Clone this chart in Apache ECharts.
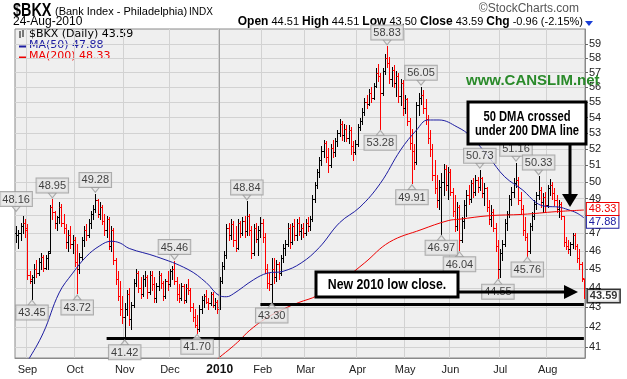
<!DOCTYPE html>
<html><head><meta charset="utf-8">
<script src="https://cdn.jsdelivr.net/npm/echarts@6/dist/echarts.min.js"></script>
<style>html,body{margin:0;padding:0;background:#fff}#c{width:627px;height:379px}</style>
</head><body><div id="c"></div><script>
// ---- daily bars [open, high, low, close] per month ----
const aug09=[[47.0,47.4,46.5,46.9],[46.9,47.2,46.2,47.0],[47.0,47.6,46.6,47.4],[47.4,48.0,47.0,47.6],[47.6,47.8,46.8,47.3]];
const sep09=[[47.2,47.5,44.5,44.7],[44.7,44.9,44.3,44.5],[44.4,44.7,43.45,44.6],[44.6,45.3,44.3,45.0],[45.0,45.5,44.6,44.8],[44.8,45.6,44.7,45.4],[45.4,45.9,45.0,45.7],[45.7,45.8,44.9,45.1],[45.1,45.8,45.0,45.6],[45.6,46.0,45.0,45.9],[46.0,48.6,45.9,48.5],[48.5,48.95,47.8,48.2],[48.2,48.3,47.3,47.6],[47.6,48.0,47.2,47.9],[47.9,48.8,47.6,48.5],[48.5,48.7,47.4,47.6],[47.6,48.1,47.0,47.3],[47.3,47.5,46.2,46.5],[46.5,47.2,46.0,46.9],[46.9,47.4,46.2,46.4],[46.4,46.9,45.9,46.6]];
const oct09=[[46.6,46.8,45.2,45.4],[45.4,46.4,43.72,45.0],[45.0,45.9,44.8,45.7],[45.7,46.8,45.5,46.6],[46.6,47.4,46.3,47.2],[47.2,47.5,46.6,46.9],[46.9,47.8,46.8,47.6],[47.6,48.3,47.3,48.1],[48.1,48.6,47.8,48.4],[48.4,49.28,48.2,48.9],[48.9,49.0,47.9,48.1],[48.1,48.8,47.8,48.5],[48.5,48.6,47.5,47.7],[47.7,48.1,46.9,47.2],[47.2,48.0,46.8,47.8],[47.8,47.9,46.1,46.3],[46.3,47.4,46.0,47.2],[47.2,47.3,45.3,45.5],[45.5,45.6,44.2,44.5],[44.5,44.9,43.4,43.6],[43.6,44.4,42.6,42.9],[42.9,43.6,42.2,42.5]];
const nov09=[[42.5,43.2,41.42,42.9],[42.9,43.9,42.6,43.7],[43.7,44.0,42.1,42.4],[42.4,43.3,41.9,43.1],[43.1,44.5,43.0,44.3],[44.3,45.0,44.1,44.8],[44.8,44.9,43.8,44.0],[44.0,44.6,43.5,43.7],[43.7,44.7,43.6,44.5],[44.5,44.9,44.1,44.6],[44.6,44.7,43.5,43.8],[43.8,44.9,43.7,44.7],[44.7,44.9,43.9,44.2],[44.2,44.6,43.3,43.5],[43.5,44.3,43.3,44.1],[44.1,44.9,43.9,44.7],[44.7,44.8,44.0,44.3],[44.3,44.4,43.4,43.6],[43.6,44.5,43.5,44.4],[44.4,44.9,43.9,44.2]];
const dec09=[[44.2,45.0,44.1,44.9],[44.9,45.2,44.5,45.0],[45.0,45.46,44.2,44.4],[44.4,44.6,43.4,43.7],[43.7,44.2,43.3,43.5],[43.5,44.3,43.4,44.1],[44.1,44.2,43.2,43.4],[43.4,44.2,43.3,44.0],[44.0,44.5,43.7,43.9],[43.9,44.0,42.8,43.0],[43.0,43.2,42.3,42.5],[42.5,42.9,42.0,42.1],[42.1,42.6,41.70,41.9],[41.9,43.1,41.8,42.9],[42.9,43.6,42.7,43.4],[43.4,43.7,43.0,43.6],[43.6,43.9,43.2,43.3],[43.3,43.5,42.9,43.2],[43.2,43.8,43.1,43.7],[43.7,43.8,43.0,43.1],[43.1,43.5,42.9,43.3],[43.3,43.4,42.7,42.9]];
const jan10=[[43.0,44.6,42.9,44.4],[44.4,45.4,44.3,45.2],[45.2,46.0,45.0,45.8],[45.8,47.5,45.6,47.3],[47.3,47.6,46.6,46.9],[46.9,47.8,46.7,47.5],[47.5,47.7,46.3,46.6],[46.6,47.4,46.0,46.2],[46.2,47.8,46.1,47.6],[47.6,47.7,46.8,47.0],[47.0,47.9,46.9,47.7],[47.7,48.0,46.8,47.1],[47.1,48.84,46.9,48.0],[48.0,48.1,46.9,47.2],[47.2,47.4,45.6,45.9],[45.9,47.5,45.8,47.3],[47.3,47.6,46.5,46.7],[46.7,47.4,45.8,47.2],[47.2,47.9,46.8,47.6]];
const feb10=[[47.6,47.8,46.5,46.8],[46.8,47.0,44.8,45.0],[45.0,45.3,44.0,44.3],[44.3,44.8,43.9,44.2],[44.2,45.6,43.30,45.0],[45.0,45.6,44.3,44.6],[44.6,45.5,44.4,45.3],[45.3,45.4,44.5,44.8],[44.8,45.8,44.7,45.6],[45.6,46.4,45.4,46.2],[46.2,46.6,45.8,46.4],[46.4,47.6,46.3,47.3],[47.3,47.5,46.2,46.5],[46.5,47.6,46.4,47.4],[47.4,47.8,46.6,46.9],[46.9,47.8,46.6,47.6],[47.6,47.9,46.9,47.1],[47.1,47.5,46.7,47.3],[47.3,47.6,46.8,47.0]];
const mar10=[[47.0,47.8,46.9,47.6],[47.6,47.9,47.1,47.4],[47.4,48.0,47.2,47.8],[47.8,49.2,47.7,49.0],[49.0,50.0,48.8,49.8],[49.8,50.8,49.6,50.6],[50.6,51.5,50.3,51.3],[51.3,52.2,51.0,51.9],[51.9,52.6,51.5,52.4],[52.4,52.5,51.2,51.5],[51.5,52.1,50.6,51.0],[51.0,52.3,50.9,52.1],[52.1,52.6,51.5,51.8],[51.8,52.7,51.6,52.5],[52.5,53.2,52.2,53.0],[53.0,53.9,52.8,53.6],[53.6,53.8,52.6,52.9],[52.9,53.6,52.5,53.3],[53.3,53.5,52.5,52.7],[52.7,53.5,52.4,53.2],[53.2,53.4,51.7,52.2],[52.2,52.5,51.3,51.8],[51.8,52.6,51.7,52.3]];
const apr10=[[52.3,53.6,52.2,53.4],[53.4,54.0,53.2,53.8],[53.8,54.6,53.6,54.4],[54.4,55.3,54.2,55.0],[55.0,55.5,54.6,54.9],[54.9,55.9,54.8,55.6],[55.6,56.0,55.0,55.3],[55.3,56.3,55.2,56.1],[56.1,57.3,56.0,57.0],[57.0,57.6,56.4,56.8],[56.8,57.0,53.28,55.6],[55.6,57.3,55.5,57.1],[57.1,58.3,56.9,58.0],[58.0,58.83,57.4,57.7],[57.7,58.1,56.3,56.6],[56.6,57.4,56.1,57.2],[57.2,57.5,56.0,56.3],[56.3,57.1,55.4,56.8],[56.8,57.0,55.0,55.4],[55.4,56.6,54.8,56.3],[56.3,56.5,54.2,54.6]];
const may10=[[54.6,55.5,54.3,55.2],[55.2,55.3,53.5,53.8],[53.8,54.0,52.0,52.4],[52.4,53.3,49.91,51.9],[51.9,52.3,50.8,51.2],[51.2,55.0,51.1,54.8],[54.8,55.6,54.2,55.3],[55.3,56.05,54.9,55.5],[55.5,55.8,54.3,54.6],[54.6,55.2,53.6,53.9],[53.9,54.2,52.4,52.7],[52.7,53.2,51.6,52.0],[52.0,52.3,50.1,50.4],[50.4,51.3,49.3,49.6],[49.6,50.4,48.5,48.9],[48.9,50.1,48.4,49.7],[49.7,50.5,46.97,50.0],[50.0,51.1,49.2,50.8],[50.8,51.0,49.5,49.8],[49.8,50.9,49.0,50.6]];
const jun10=[[50.6,50.8,49.2,49.4],[49.4,49.6,48.0,48.3],[48.3,49.2,47.1,47.4],[47.4,48.8,47.2,48.5],[48.5,48.6,46.04,46.6],[46.6,47.9,46.5,47.7],[47.7,48.9,47.3,48.6],[48.6,49.5,48.0,49.2],[49.2,49.8,48.7,49.0],[49.0,50.1,48.8,49.9],[49.9,50.2,49.1,49.4],[49.4,50.4,49.2,50.1],[50.1,50.3,49.4,49.7],[49.7,50.73,49.5,50.2],[50.2,50.3,49.1,49.3],[49.3,49.9,48.6,49.6],[49.6,49.7,48.3,48.5],[48.5,48.9,47.5,47.8],[47.8,48.6,47.4,48.2],[48.2,48.4,47.1,47.3],[47.3,47.6,46.0,46.3],[46.3,46.6,44.55,45.0]];
const jul10=[[45.0,46.1,44.6,45.9],[45.9,46.6,45.5,46.4],[46.4,47.8,46.3,47.6],[47.6,48.3,47.2,48.1],[48.1,49.2,47.9,49.0],[49.0,49.7,48.6,49.4],[49.4,50.2,49.1,49.9],[49.9,51.16,49.7,50.1],[50.1,50.3,48.7,48.9],[48.9,49.4,48.1,48.4],[48.4,48.6,46.9,47.2],[47.2,47.9,46.6,46.8],[46.8,47.0,45.76,46.0],[46.0,47.6,45.9,47.4],[47.4,48.2,47.2,48.0],[48.0,48.9,47.8,48.7],[48.7,49.4,48.4,49.2],[49.2,50.33,49.0,49.5],[49.5,49.7,48.5,48.8],[48.8,49.3,48.2,49.1],[49.1,49.4,48.3,48.6]];
const aug10=[[48.6,49.8,48.5,49.6],[49.6,50.15,49.2,49.8],[49.8,50.0,49.0,49.3],[49.3,49.6,48.6,48.9],[48.9,49.2,48.2,48.4],[48.4,48.9,47.9,48.7],[48.7,48.8,47.8,48.0],[48.0,48.0,46.3,46.5],[46.5,46.8,46.1,46.3],[46.3,46.6,45.9,46.1],[46.1,46.5,45.8,46.4],[46.4,47.0,46.2,46.9],[46.9,47.0,46.1,46.3],[46.3,46.4,45.4,45.6],[45.6,46.1,45.0,45.3],[45.3,45.4,44.4,44.55],[44.51,44.51,43.50,43.59]];

// trading calendar
const firstDay='2009-08-25', lastDay='2010-08-24';
const holidays=['2009-09-07','2009-11-26','2009-12-25','2010-01-01','2010-01-18','2010-02-15','2010-04-02','2010-05-31','2010-07-05'];
const monthNames=['2010','Feb','Mar','Apr','May','Jun','Jul','Aug','Sep','Oct','Nov','Dec'];

// moving averages: [bar index, value]
const ma50=[[0,39.5],[5,40.3],[12,41.7],[19,43.75],[25,44.8],[31,45.7],[37,46.3],[42,46.55],[46,46.45],[50,46.15],[62,45.7],[76,45.0],[84,44.3],[90,43.6],[93,43.55],[96,43.7],[105,44.45],[111,44.8],[118,44.9],[126,45.35],[134,46.2],[143,47.6],[152,48.5],[161,49.9],[170,51.95],[177,53.2],[182,53.85],[187,53.85],[195,53.4],[201,52.8],[209,51.5],[216,50.3],[224,49.5],[230,48.75],[234,48.55],[240,48.5],[244,48.35],[248,48.15],[251,47.88]];
const ma200=[[86,40.1],[90,40.5],[95,40.95],[99,41.35],[103,41.8],[110,42.4],[118,42.9],[125,43.25],[133,43.6],[145,44.5],[154,45.35],[165,46.5],[179,47.2],[191,47.72],[196,47.8],[209,48.0],[224,48.08],[239,48.24],[251,48.33]];

// labelled highs and lows
const highCallouts=[[0,48.16],[16,48.95],[35,49.28],[70,45.46],[102,48.84],[164,58.83],[179,56.05],[205,50.73],[221,51.16],[231,50.33]];
const lowCallouts=[[7,43.45],[27,43.72],[48,41.42],[80,41.70],[113,43.30],[161,53.28],[175,49.91],[188,46.97],[196,46.04],[213,44.55],[226,45.76]];
const supportLines=[[40,41.42],[108,43.15]];
const yTicks=[41,42,43,44,45,46,47,48,49,50,51,52,53,54,55,56,57,58,59];
const lastClose=43.59;

// ---------------------------------------------------------
function pad(n){return (n<10?'0':'')+n;}
const dates=[];
(function(){
  const s=new Date(firstDay+'T00:00:00Z'), e=new Date(lastDay+'T00:00:00Z');
  for(let d=new Date(s); d<=e; d.setUTCDate(d.getUTCDate()+1)){
    const w=d.getUTCDay(); if(w===0||w===6) continue;
    const k=d.getUTCFullYear()+'-'+pad(d.getUTCMonth()+1)+'-'+pad(d.getUTCDate());
    if(holidays.indexOf(k)>=0) continue;
    dates.push(k);
  }
})();
const bars=[].concat(aug09,sep09,oct09,nov09,dec09,jan10,feb10,mar10,apr10,may10,jun10,jul10,aug10);
const ohlcData=bars.map((b,i)=>[i,b[0],b[1],b[2],b[3], (i>0 && b[3]<bars[i-1][3])?1:0]);
const monthStart={};
for(let i=1;i<dates.length;i++){ if(dates[i].slice(5,7)!==dates[i-1].slice(5,7)) monthStart[i]=monthNames[parseInt(dates[i].slice(5,7),10)-1]; }
const janIdx=+Object.keys(monthStart).find(k=>monthStart[k]==='2010');

const FONT='Liberation Sans, Arial, sans-serif';
const chart=echarts.init(document.getElementById('c'),null,{renderer:'canvas'});

function renderOHLC(params, api){
  const i=api.value(0);
  const pH=api.coord([i,api.value(2)]), pL=api.coord([i,api.value(3)]);
  const pO=api.coord([i,api.value(1)]), pC=api.coord([i,api.value(4)]);
  const col=api.value(5)?'#ff0000':'#000000';
  const x=Math.round(pH[0])+0.5;
  const yo=Math.round(pO[1])+0.5, yc=Math.round(pC[1])+0.5;
  return {type:'group',children:[
    {type:'line',shape:{x1:x,y1:Math.round(pH[1]),x2:x,y2:Math.round(pL[1])+1},style:{stroke:col,lineWidth:1}},
    {type:'line',shape:{x1:x-2,y1:yo,x2:x,y2:yo},style:{stroke:col,lineWidth:1}},
    {type:'line',shape:{x1:x,y1:yc,x2:x+2,y2:yc},style:{stroke:col,lineWidth:1}}
  ]};
}

const calloutLabel={show:true,distance:0,fontSize:11,fontFamily:FONT,color:'#111',backgroundColor:'#e6e6e6',borderColor:'#9a9a9a',borderWidth:1,padding:[2,2,1,2],formatter:p=>p.value[1].toFixed(2)};

function boldText(txt,x,y,size,sx){
  return {type:'text',z:11,x:x,y:y,scaleX:sx,style:{text:txt,font:'bold '+size+'px '+FONT,fill:'#000',align:'center',verticalAlign:'middle'}};
}

const option={
  animation:false,
  grid:{left:15,right:42,top:29,bottom:21,show:true,backgroundColor:'#efefef',borderColor:'#8a8a8a',borderWidth:1},
  xAxis:{type:'category',data:dates,boundaryGap:true,
    axisLine:{show:true,lineStyle:{color:'#8a8a8a'}},axisTick:{show:false},
    axisLabel:{interval:(i)=>monthStart[i]!==undefined,formatter:(v,i)=>{const m=monthStart[i]; return m==='2010'?'{b|2010}':m;},fontSize:11,fontFamily:FONT,color:'#222',margin:6,
      rich:{b:{fontWeight:'bold',fontSize:12,fontFamily:FONT,color:'#111'}}},
    splitLine:{show:true,interval:(i)=>monthStart[i]!==undefined,lineStyle:{color:'#d2d2d2',width:1}}},
  yAxis:{type:'log',logBase:10,min:40.46,max:60.07,position:'right',
    axisLine:{show:true,lineStyle:{color:'#8a8a8a'}},
    axisTick:{show:true,length:3,customValues:yTicks,lineStyle:{color:'#666'}},
    axisLabel:{customValues:yTicks,fontSize:11,fontFamily:FONT,color:'#222',margin:4,formatter:v=>String(Math.round(v))},
    splitLine:{show:true,lineStyle:{color:'#d2d2d2',width:1}}},
  series:[
    {type:'custom',name:'BKX',renderItem:renderOHLC,data:ohlcData,encode:{x:0,y:[1,2,3,4]},z:3,clip:true},
    {type:'line',name:'MA50',data:ma50,smooth:0.4,symbol:'none',z:4,
      lineStyle:{color:'#1c1ca0',width:1},
      endLabel:{show:true,formatter:()=>'47.88',color:'#1c1ca0',backgroundColor:'#fff',borderColor:'#1c1ca0',borderWidth:1,padding:[1,2,0,2],fontSize:11,fontFamily:FONT,distance:3,offset:[0,4]},
      markLine:{silent:true,symbol:'none',label:{show:false},lineStyle:{color:'#a0a0a0',width:1,type:'solid'},data:[{xAxis:janIdx}]}},
    {type:'line',name:'MA200',data:ma200,smooth:0.4,symbol:'none',z:4,
      lineStyle:{color:'#ee0000',width:1},
      endLabel:{show:true,formatter:()=>'48.33',color:'#ee0000',backgroundColor:'#fff',borderColor:'#ee0000',borderWidth:1,padding:[1,2,0,2],fontSize:11,fontFamily:FONT,distance:3,offset:[0,-1]},
      markLine:{silent:true,symbol:'none',label:{show:false},lineStyle:{color:'#000',width:3,type:'solid'},
        data:supportLines.map(s=>[{coord:[s[0],s[1]]},{coord:[bars.length-1,s[1]]}])}},
    {type:'scatter',data:highCallouts,symbol:'path://M0,0 L10,0 L5,6 Z',symbolSize:[8,5],symbolOffset:[0,-4],z:6,
      itemStyle:{color:'#e6e6e6',borderColor:'#9a9a9a',borderWidth:1},label:Object.assign({},calloutLabel,{position:'top'})},
    {type:'scatter',data:lowCallouts,symbol:'path://M5,0 L10,6 L0,6 Z',symbolSize:[8,5],symbolOffset:[0,4],z:6,
      itemStyle:{color:'#e6e6e6',borderColor:'#9a9a9a',borderWidth:1},label:Object.assign({},calloutLabel,{position:'bottom'})},
    {type:'scatter',data:[[bars.length-1,lastClose]],symbolSize:0,z:7,
      label:{show:true,position:'right',distance:4,formatter:p=>p.value[1].toFixed(2),fontSize:11,fontWeight:'bold',fontFamily:FONT,color:'#000',backgroundColor:'#fff',borderColor:'#000',borderWidth:1.5,padding:[1,2,0,2]}}
  ],
  graphic:[
    // header
    {type:'text',x:13,y:2,scaleX:0.8,style:{text:'$BKX',font:'bold 18px '+FONT,fill:'#000',verticalAlign:'top'}},
    {type:'text',x:55,y:6,style:{text:'(Bank Index - Philadelphia)',font:'11px '+FONT,fill:'#000',verticalAlign:'top'}},
    {type:'text',x:189,y:7,style:{text:'INDX',font:'10px '+FONT,fill:'#000',verticalAlign:'top'}},
    {type:'text',right:48,top:3,style:{text:'\u00A9StockCharts.com',font:'12px '+FONT,fill:'#555'}},
    {type:'text',left:13,top:16,style:{text:'24-Aug-2010',font:'12px '+FONT,fill:'#000'}},
    {type:'text',right:44,top:16,style:{text:'{b|Open} 44.51 {b|High} 44.51 {b|Low} 43.50 {b|Close} 43.59 {b|Chg} -0.96 (-2.15%)',font:'11px '+FONT,fill:'#000',rich:{b:{font:'bold 12px '+FONT,fill:'#000'}}}},
    {type:'polygon',shape:{points:[[585,21],[593,21],[589,26]]},style:{fill:'#1a3fd6'}},
    // legend inside plot
    {type:'line',shape:{x1:20,y1:31,x2:20,y2:38},style:{stroke:'#000',lineWidth:1}},
    {type:'line',shape:{x1:23,y1:30,x2:23,y2:37},style:{stroke:'#000',lineWidth:1}},
    {type:'text',left:29,top:29,style:{text:'$BKX (Daily) 43.59',font:'11px DejaVu Sans',fill:'#000'}},
    {type:'line',shape:{x1:19,y1:46.5,x2:26,y2:46.5},style:{stroke:'#1c1ca0',lineWidth:2}},
    {type:'text',left:29,top:40,style:{text:'MA(50) 47.88',font:'11px DejaVu Sans',fill:'#1c1ca0'}},
    {type:'line',shape:{x1:19,y1:57.5,x2:26,y2:57.5},style:{stroke:'#ee0000',lineWidth:2}},
    {type:'text',left:29,top:51,style:{text:'MA(200) 48.33',font:'11px DejaVu Sans',fill:'#ee0000'}},
    // annotations
    {type:'text',left:466,top:73,z:10,style:{text:'www.CANSLIM.net',font:'bold 15px '+FONT,fill:'#2a8a2a'}},
    {type:'rect',z:10,shape:{x:468,y:102,width:118,height:42},style:{fill:'#fff',stroke:'#000',lineWidth:3}},
    boldText('50 DMA crossed',527,117,14,0.8),
    boldText('under 200 DMA line',527,131,14,0.8),
    {type:'line',z:10,shape:{x1:570,y1:144,x2:570,y2:196},style:{stroke:'#000',lineWidth:3}},
    {type:'polygon',z:10,shape:{points:[[562,194],[578,194],[570,207]]},style:{fill:'#000'}},
    {type:'rect',z:10,shape:{x:316,y:272,width:142,height:25},style:{fill:'#fff',stroke:'#000',lineWidth:3}},
    boldText('New 2010 low close.',387,285,14,0.88),
    {type:'line',z:10,shape:{x1:458,y1:292,x2:566,y2:292},style:{stroke:'#000',lineWidth:3}},
    {type:'polygon',z:10,shape:{points:[[564,285],[564,299],[578,292]]},style:{fill:'#000'}}
  ]
};
chart.setOption(option);
</script></body></html>
